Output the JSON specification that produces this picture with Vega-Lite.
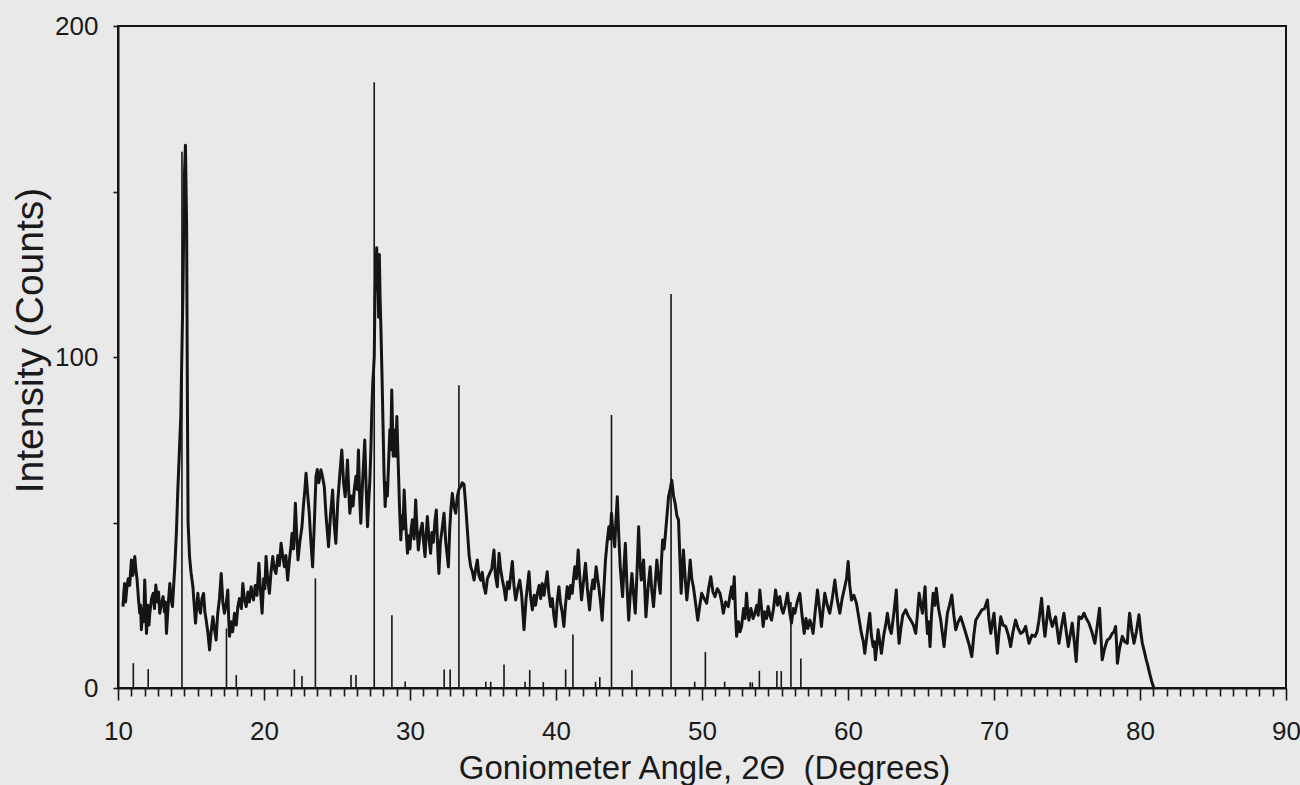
{
  "$schema": "https://vega.github.io/schema/vega-lite/v6.json",
  "width": 1168,
  "height": 662,
  "autosize": {"type": "none"},
  "padding": {"left": 118, "top": 26, "right": 14, "bottom": 97},
  "background": "#e9e9e9",
  "config": {
    "font": "Liberation Sans",
    "view": {"stroke": "#151515", "strokeWidth": 2},
    "axis": {
      "domainColor": "#151515",
      "domainWidth": 2,
      "tickColor": "#151515",
      "tickWidth": 1.6,
      "grid": false,
      "labelColor": "#1a1a1a",
      "titleColor": "#1a1a1a",
      "labelFont": "Liberation Sans",
      "titleFont": "Liberation Sans",
      "titleFontWeight": "normal"
    }
  },
  "datasets": {
    "scan": [
      {"angle": 10.34, "counts": 24.6}, {"angle": 10.4, "counts": 29}, {"angle": 10.45, "counts": 31.6}, {"angle": 10.52, "counts": 26},
      {"angle": 10.6, "counts": 30}, {"angle": 10.7, "counts": 33}, {"angle": 10.8, "counts": 31}, {"angle": 10.92, "counts": 38.7},
      {"angle": 11.02, "counts": 34}, {"angle": 11.15, "counts": 39.7}, {"angle": 11.22, "counts": 36}, {"angle": 11.31, "counts": 32.6},
      {"angle": 11.4, "counts": 27}, {"angle": 11.49, "counts": 22.6}, {"angle": 11.55, "counts": 25}, {"angle": 11.6, "counts": 17.6},
      {"angle": 11.7, "counts": 24}, {"angle": 11.76, "counts": 20}, {"angle": 11.83, "counts": 32.6}, {"angle": 11.9, "counts": 24},
      {"angle": 11.95, "counts": 16.5}, {"angle": 12.05, "counts": 25}, {"angle": 12.12, "counts": 19}, {"angle": 12.18, "counts": 22.6},
      {"angle": 12.3, "counts": 27}, {"angle": 12.41, "counts": 28.6}, {"angle": 12.5, "counts": 24}, {"angle": 12.59, "counts": 31.1},
      {"angle": 12.7, "counts": 26}, {"angle": 12.78, "counts": 29}, {"angle": 12.86, "counts": 22.6}, {"angle": 12.95, "counts": 25},
      {"angle": 13.09, "counts": 27.6}, {"angle": 13.18, "counts": 23}, {"angle": 13.25, "counts": 26}, {"angle": 13.32, "counts": 16.5},
      {"angle": 13.42, "counts": 24}, {"angle": 13.55, "counts": 31.6}, {"angle": 13.63, "counts": 27}, {"angle": 13.73, "counts": 24.6},
      {"angle": 13.8, "counts": 30}, {"angle": 13.89, "counts": 36.6}, {"angle": 14.0, "counts": 47}, {"angle": 14.1, "counts": 60},
      {"angle": 14.3, "counts": 82}, {"angle": 14.45, "counts": 120}, {"angle": 14.55, "counts": 155}, {"angle": 14.62, "counts": 164},
      {"angle": 14.7, "counts": 140}, {"angle": 14.75, "counts": 90}, {"angle": 14.8, "counts": 50}, {"angle": 14.9, "counts": 39.7},
      {"angle": 15.0, "counts": 35}, {"angle": 15.13, "counts": 30.6}, {"angle": 15.22, "counts": 25}, {"angle": 15.31, "counts": 19.6},
      {"angle": 15.4, "counts": 25}, {"angle": 15.47, "counts": 28.6}, {"angle": 15.56, "counts": 24}, {"angle": 15.65, "counts": 22.6},
      {"angle": 15.75, "counts": 27}, {"angle": 15.86, "counts": 28.6}, {"angle": 15.95, "counts": 23}, {"angle": 16.04, "counts": 20.5},
      {"angle": 16.15, "counts": 17}, {"angle": 16.27, "counts": 11.5}, {"angle": 16.38, "counts": 17}, {"angle": 16.5, "counts": 21.5},
      {"angle": 16.6, "counts": 18}, {"angle": 16.72, "counts": 14.5}, {"angle": 16.82, "counts": 22}, {"angle": 16.95, "counts": 27},
      {"angle": 17.07, "counts": 34.6}, {"angle": 17.18, "counts": 26}, {"angle": 17.29, "counts": 22.6}, {"angle": 17.4, "counts": 25},
      {"angle": 17.52, "counts": 29.6}, {"angle": 17.58, "counts": 21}, {"angle": 17.64, "counts": 15.6}, {"angle": 17.75, "counts": 20},
      {"angle": 17.85, "counts": 17}, {"angle": 17.98, "counts": 22.6}, {"angle": 18.1, "counts": 19}, {"angle": 18.21, "counts": 24.6},
      {"angle": 18.32, "counts": 27}, {"angle": 18.45, "counts": 24}, {"angle": 18.55, "counts": 31.6}, {"angle": 18.65, "counts": 27},
      {"angle": 18.78, "counts": 24.6}, {"angle": 18.9, "counts": 29}, {"angle": 19.0, "counts": 26}, {"angle": 19.12, "counts": 30.6},
      {"angle": 19.2, "counts": 28}, {"angle": 19.28, "counts": 26.6}, {"angle": 19.4, "counts": 31}, {"angle": 19.52, "counts": 28},
      {"angle": 19.65, "counts": 37.7}, {"angle": 19.75, "counts": 30}, {"angle": 19.87, "counts": 22.6}, {"angle": 19.98, "counts": 33},
      {"angle": 20.06, "counts": 30}, {"angle": 20.14, "counts": 39.7}, {"angle": 20.25, "counts": 33}, {"angle": 20.37, "counts": 28.6},
      {"angle": 20.48, "counts": 35}, {"angle": 20.6, "counts": 39.7}, {"angle": 20.7, "counts": 36}, {"angle": 20.82, "counts": 34.6},
      {"angle": 20.95, "counts": 40}, {"angle": 21.05, "counts": 37}, {"angle": 21.17, "counts": 43.7}, {"angle": 21.28, "counts": 40},
      {"angle": 21.4, "counts": 36.6}, {"angle": 21.5, "counts": 40}, {"angle": 21.62, "counts": 32.6}, {"angle": 21.75, "counts": 39},
      {"angle": 21.85, "counts": 43}, {"angle": 21.92, "counts": 46.7}, {"angle": 22.02, "counts": 42}, {"angle": 22.15, "counts": 55.8},
      {"angle": 22.25, "counts": 45}, {"angle": 22.33, "counts": 38.7}, {"angle": 22.45, "counts": 44}, {"angle": 22.6, "counts": 48.7},
      {"angle": 22.7, "counts": 55}, {"angle": 22.8, "counts": 60}, {"angle": 22.88, "counts": 64.9}, {"angle": 23.0, "counts": 58},
      {"angle": 23.1, "counts": 52.8}, {"angle": 23.2, "counts": 45}, {"angle": 23.33, "counts": 36.6}, {"angle": 23.45, "counts": 50},
      {"angle": 23.56, "counts": 63.8}, {"angle": 23.65, "counts": 66}, {"angle": 23.75, "counts": 62}, {"angle": 23.9, "counts": 65.9},
      {"angle": 24.0, "counts": 64}, {"angle": 24.13, "counts": 60.8}, {"angle": 24.25, "counts": 52}, {"angle": 24.42, "counts": 42.7},
      {"angle": 24.55, "counts": 52}, {"angle": 24.7, "counts": 59.8}, {"angle": 24.8, "counts": 50}, {"angle": 24.92, "counts": 43.7},
      {"angle": 25.05, "counts": 56}, {"angle": 25.2, "counts": 65}, {"angle": 25.33, "counts": 71.9}, {"angle": 25.45, "counts": 62},
      {"angle": 25.56, "counts": 57.8}, {"angle": 25.65, "counts": 63}, {"angle": 25.72, "counts": 68.9}, {"angle": 25.8, "counts": 60},
      {"angle": 25.88, "counts": 52.8}, {"angle": 26.0, "counts": 58}, {"angle": 26.1, "counts": 55}, {"angle": 26.18, "counts": 59.8},
      {"angle": 26.3, "counts": 64}, {"angle": 26.38, "counts": 60}, {"angle": 26.47, "counts": 71.9}, {"angle": 26.55, "counts": 58},
      {"angle": 26.63, "counts": 49.8}, {"angle": 26.75, "counts": 62}, {"angle": 26.9, "counts": 74.9}, {"angle": 27.0, "counts": 60},
      {"angle": 27.09, "counts": 48.7}, {"angle": 27.18, "counts": 57}, {"angle": 27.25, "counts": 62.8}, {"angle": 27.32, "counts": 72},
      {"angle": 27.38, "counts": 83}, {"angle": 27.45, "counts": 92}, {"angle": 27.55, "counts": 100}, {"angle": 27.6, "counts": 118},
      {"angle": 27.65, "counts": 125}, {"angle": 27.72, "counts": 133}, {"angle": 27.76, "counts": 122}, {"angle": 27.8, "counts": 128},
      {"angle": 27.85, "counts": 112}, {"angle": 27.9, "counts": 131}, {"angle": 27.95, "counts": 118}, {"angle": 28.0, "counts": 110},
      {"angle": 28.08, "counts": 95}, {"angle": 28.15, "counts": 80}, {"angle": 28.22, "counts": 65}, {"angle": 28.3, "counts": 54.8},
      {"angle": 28.38, "counts": 62}, {"angle": 28.45, "counts": 58}, {"angle": 28.55, "counts": 69.9}, {"angle": 28.62, "counts": 78},
      {"angle": 28.68, "counts": 72}, {"angle": 28.75, "counts": 90}, {"angle": 28.8, "counts": 80}, {"angle": 28.85, "counts": 70},
      {"angle": 28.9, "counts": 78}, {"angle": 28.95, "counts": 75}, {"angle": 29.02, "counts": 70}, {"angle": 29.1, "counts": 82},
      {"angle": 29.15, "counts": 74}, {"angle": 29.2, "counts": 66.9}, {"angle": 29.28, "counts": 55}, {"angle": 29.37, "counts": 44.7},
      {"angle": 29.45, "counts": 52}, {"angle": 29.52, "counts": 48}, {"angle": 29.6, "counts": 59.8}, {"angle": 29.7, "counts": 50},
      {"angle": 29.83, "counts": 40.7}, {"angle": 29.92, "counts": 46}, {"angle": 30.0, "counts": 42}, {"angle": 30.08, "counts": 48},
      {"angle": 30.16, "counts": 50.8}, {"angle": 30.28, "counts": 45}, {"angle": 30.39, "counts": 56.8}, {"angle": 30.48, "counts": 48},
      {"angle": 30.57, "counts": 41.7}, {"angle": 30.7, "counts": 47}, {"angle": 30.84, "counts": 49.8}, {"angle": 30.93, "counts": 44},
      {"angle": 31.03, "counts": 39.7}, {"angle": 31.1, "counts": 46}, {"angle": 31.19, "counts": 51.8}, {"angle": 31.3, "counts": 45},
      {"angle": 31.41, "counts": 40.7}, {"angle": 31.5, "counts": 47}, {"angle": 31.6, "counts": 44}, {"angle": 31.7, "counts": 50},
      {"angle": 31.8, "counts": 53.8}, {"angle": 31.9, "counts": 42}, {"angle": 31.98, "counts": 34.6}, {"angle": 32.08, "counts": 44},
      {"angle": 32.2, "counts": 48}, {"angle": 32.33, "counts": 52.8}, {"angle": 32.45, "counts": 44}, {"angle": 32.55, "counts": 40},
      {"angle": 32.63, "counts": 36.6}, {"angle": 32.72, "counts": 48}, {"angle": 32.8, "counts": 54}, {"angle": 32.9, "counts": 58.8},
      {"angle": 33.0, "counts": 55}, {"angle": 33.13, "counts": 52.8}, {"angle": 33.25, "counts": 58}, {"angle": 33.35, "counts": 60},
      {"angle": 33.47, "counts": 60.8}, {"angle": 33.58, "counts": 62}, {"angle": 33.7, "counts": 61.5}, {"angle": 33.8, "counts": 56},
      {"angle": 33.93, "counts": 47.7}, {"angle": 34.05, "counts": 40}, {"angle": 34.16, "counts": 36.6}, {"angle": 34.28, "counts": 35},
      {"angle": 34.39, "counts": 32.6}, {"angle": 34.5, "counts": 36}, {"angle": 34.61, "counts": 38.7}, {"angle": 34.72, "counts": 34},
      {"angle": 34.84, "counts": 32.6}, {"angle": 34.95, "counts": 35}, {"angle": 35.05, "counts": 31}, {"angle": 35.18, "counts": 28.6},
      {"angle": 35.3, "counts": 33}, {"angle": 35.46, "counts": 34.6}, {"angle": 35.6, "counts": 36}, {"angle": 35.75, "counts": 41.7},
      {"angle": 35.85, "counts": 34}, {"angle": 35.98, "counts": 30.6}, {"angle": 36.1, "counts": 40.7}, {"angle": 36.2, "counts": 36},
      {"angle": 36.33, "counts": 32.6}, {"angle": 36.45, "counts": 30}, {"angle": 36.56, "counts": 26.6}, {"angle": 36.68, "counts": 32},
      {"angle": 36.8, "counts": 30}, {"angle": 36.9, "counts": 34}, {"angle": 37.01, "counts": 38.2}, {"angle": 37.12, "counts": 31},
      {"angle": 37.24, "counts": 26.6}, {"angle": 37.38, "counts": 30}, {"angle": 37.52, "counts": 32.6}, {"angle": 37.65, "counts": 28},
      {"angle": 37.81, "counts": 17.6}, {"angle": 37.95, "counts": 27}, {"angle": 38.05, "counts": 31}, {"angle": 38.15, "counts": 35.1},
      {"angle": 38.25, "counts": 28}, {"angle": 38.38, "counts": 23.6}, {"angle": 38.5, "counts": 28}, {"angle": 38.6, "counts": 25},
      {"angle": 38.72, "counts": 28.6}, {"angle": 38.85, "counts": 31}, {"angle": 38.95, "counts": 27}, {"angle": 39.06, "counts": 31.6},
      {"angle": 39.18, "counts": 28}, {"angle": 39.3, "counts": 32}, {"angle": 39.4, "counts": 35.1}, {"angle": 39.5, "counts": 29},
      {"angle": 39.63, "counts": 24.6}, {"angle": 39.75, "counts": 27}, {"angle": 39.85, "counts": 22}, {"angle": 39.97, "counts": 18.6},
      {"angle": 40.08, "counts": 26}, {"angle": 40.2, "counts": 30.6}, {"angle": 40.3, "counts": 26}, {"angle": 40.42, "counts": 23},
      {"angle": 40.54, "counts": 18.6}, {"angle": 40.65, "counts": 25}, {"angle": 40.77, "counts": 30.6}, {"angle": 40.9, "counts": 27},
      {"angle": 41.0, "counts": 31}, {"angle": 41.11, "counts": 28.6}, {"angle": 41.2, "counts": 33}, {"angle": 41.29, "counts": 36.6},
      {"angle": 41.4, "counts": 33}, {"angle": 41.52, "counts": 41.7}, {"angle": 41.62, "counts": 34}, {"angle": 41.75, "counts": 26.6},
      {"angle": 41.88, "counts": 32}, {"angle": 42.02, "counts": 37.7}, {"angle": 42.15, "counts": 30}, {"angle": 42.3, "counts": 23.6},
      {"angle": 42.4, "counts": 29}, {"angle": 42.52, "counts": 32.6}, {"angle": 42.62, "counts": 30}, {"angle": 42.75, "counts": 36.6},
      {"angle": 42.85, "counts": 33}, {"angle": 42.93, "counts": 30.6}, {"angle": 43.05, "counts": 26}, {"angle": 43.16, "counts": 20.5},
      {"angle": 43.28, "counts": 30}, {"angle": 43.39, "counts": 38.7}, {"angle": 43.5, "counts": 44}, {"angle": 43.62, "counts": 48.7},
      {"angle": 43.7, "counts": 45}, {"angle": 43.8, "counts": 52.8}, {"angle": 43.9, "counts": 47}, {"angle": 44.02, "counts": 42.7},
      {"angle": 44.1, "counts": 50}, {"angle": 44.2, "counts": 57.8}, {"angle": 44.3, "counts": 46}, {"angle": 44.4, "counts": 36.6},
      {"angle": 44.48, "counts": 32}, {"angle": 44.56, "counts": 27.6}, {"angle": 44.65, "counts": 36}, {"angle": 44.75, "counts": 43.7},
      {"angle": 44.85, "counts": 32}, {"angle": 44.98, "counts": 20.5}, {"angle": 45.08, "counts": 28}, {"angle": 45.2, "counts": 34.6},
      {"angle": 45.32, "counts": 28}, {"angle": 45.43, "counts": 22.6}, {"angle": 45.55, "counts": 35}, {"angle": 45.66, "counts": 48.7},
      {"angle": 45.75, "counts": 38}, {"angle": 45.84, "counts": 32.6}, {"angle": 45.92, "counts": 36}, {"angle": 46.0, "counts": 38.7},
      {"angle": 46.08, "counts": 30}, {"angle": 46.16, "counts": 21.5}, {"angle": 46.3, "counts": 30}, {"angle": 46.45, "counts": 36.6},
      {"angle": 46.55, "counts": 30}, {"angle": 46.68, "counts": 24.6}, {"angle": 46.8, "counts": 32}, {"angle": 46.91, "counts": 38.7},
      {"angle": 47.02, "counts": 33}, {"angle": 47.14, "counts": 28.6}, {"angle": 47.22, "counts": 38}, {"angle": 47.3, "counts": 44.7},
      {"angle": 47.4, "counts": 42}, {"angle": 47.48, "counts": 45.7}, {"angle": 47.6, "counts": 52}, {"angle": 47.71, "counts": 57.8},
      {"angle": 47.82, "counts": 60}, {"angle": 47.93, "counts": 62.8}, {"angle": 48.05, "counts": 58}, {"angle": 48.16, "counts": 55.8},
      {"angle": 48.28, "counts": 52}, {"angle": 48.39, "counts": 50.8}, {"angle": 48.48, "counts": 40}, {"angle": 48.57, "counts": 28.6},
      {"angle": 48.65, "counts": 35}, {"angle": 48.73, "counts": 41.7}, {"angle": 48.85, "counts": 33}, {"angle": 48.96, "counts": 26.6},
      {"angle": 49.08, "counts": 32}, {"angle": 49.19, "counts": 38.7}, {"angle": 49.3, "counts": 33}, {"angle": 49.41, "counts": 30.6},
      {"angle": 49.55, "counts": 26}, {"angle": 49.71, "counts": 20.5}, {"angle": 49.85, "counts": 25}, {"angle": 49.98, "counts": 28.6},
      {"angle": 50.15, "counts": 27}, {"angle": 50.32, "counts": 25.6}, {"angle": 50.45, "counts": 30}, {"angle": 50.6, "counts": 33.6},
      {"angle": 50.75, "counts": 29}, {"angle": 50.89, "counts": 27.6}, {"angle": 51.05, "counts": 30}, {"angle": 51.23, "counts": 28.6},
      {"angle": 51.35, "counts": 26}, {"angle": 51.46, "counts": 22.6}, {"angle": 51.62, "counts": 26}, {"angle": 51.8, "counts": 24.6},
      {"angle": 51.92, "counts": 28}, {"angle": 52.03, "counts": 30.6}, {"angle": 52.12, "counts": 27}, {"angle": 52.21, "counts": 33.6},
      {"angle": 52.3, "counts": 22}, {"angle": 52.37, "counts": 15.6}, {"angle": 52.5, "counts": 20}, {"angle": 52.6, "counts": 17},
      {"angle": 52.71, "counts": 18.6}, {"angle": 52.85, "counts": 24}, {"angle": 52.95, "counts": 21}, {"angle": 53.05, "counts": 28.6},
      {"angle": 53.12, "counts": 24}, {"angle": 53.21, "counts": 20.5}, {"angle": 53.35, "counts": 24}, {"angle": 53.5, "counts": 21},
      {"angle": 53.62, "counts": 22.6}, {"angle": 53.75, "counts": 25}, {"angle": 53.85, "counts": 22}, {"angle": 53.96, "counts": 29.6},
      {"angle": 54.08, "counts": 24}, {"angle": 54.19, "counts": 18.6}, {"angle": 54.3, "counts": 23}, {"angle": 54.42, "counts": 21},
      {"angle": 54.53, "counts": 24.6}, {"angle": 54.65, "counts": 22}, {"angle": 54.76, "counts": 20.5}, {"angle": 54.9, "counts": 24},
      {"angle": 55.04, "counts": 29.6}, {"angle": 55.18, "counts": 25}, {"angle": 55.33, "counts": 27.6}, {"angle": 55.45, "counts": 24},
      {"angle": 55.56, "counts": 22.6}, {"angle": 55.7, "counts": 25}, {"angle": 55.86, "counts": 28.6}, {"angle": 56.0, "counts": 23},
      {"angle": 56.13, "counts": 19.6}, {"angle": 56.25, "counts": 24}, {"angle": 56.36, "counts": 22.6}, {"angle": 56.52, "counts": 26},
      {"angle": 56.7, "counts": 28.6}, {"angle": 56.85, "counts": 22}, {"angle": 57.0, "counts": 16.5}, {"angle": 57.12, "counts": 21},
      {"angle": 57.25, "counts": 18}, {"angle": 57.39, "counts": 20.5}, {"angle": 57.5, "counts": 19}, {"angle": 57.61, "counts": 16.5},
      {"angle": 57.75, "counts": 23}, {"angle": 57.91, "counts": 29.6}, {"angle": 58.05, "counts": 24}, {"angle": 58.18, "counts": 18.6},
      {"angle": 58.3, "counts": 24}, {"angle": 58.41, "counts": 28.6}, {"angle": 58.58, "counts": 25}, {"angle": 58.75, "counts": 22.6},
      {"angle": 58.92, "counts": 27}, {"angle": 59.1, "counts": 32.6}, {"angle": 59.25, "counts": 27}, {"angle": 59.44, "counts": 22.6},
      {"angle": 59.6, "counts": 27}, {"angle": 59.78, "counts": 30.6}, {"angle": 59.9, "counts": 33}, {"angle": 60.01, "counts": 38.2},
      {"angle": 60.12, "counts": 31}, {"angle": 60.24, "counts": 26.6}, {"angle": 60.4, "counts": 28}, {"angle": 60.58, "counts": 25.6},
      {"angle": 60.75, "counts": 21}, {"angle": 60.92, "counts": 16.5}, {"angle": 61.05, "counts": 14}, {"angle": 61.15, "counts": 10.5},
      {"angle": 61.3, "counts": 16}, {"angle": 61.49, "counts": 22.6}, {"angle": 61.6, "counts": 16}, {"angle": 61.72, "counts": 12.5},
      {"angle": 61.8, "counts": 14}, {"angle": 61.88, "counts": 8.5}, {"angle": 61.98, "counts": 13}, {"angle": 62.06, "counts": 17.6},
      {"angle": 62.18, "counts": 14}, {"angle": 62.29, "counts": 10.5}, {"angle": 62.45, "counts": 16}, {"angle": 62.58, "counts": 19},
      {"angle": 62.7, "counts": 22.6}, {"angle": 62.85, "counts": 18}, {"angle": 62.97, "counts": 16.5}, {"angle": 63.15, "counts": 23},
      {"angle": 63.31, "counts": 29.6}, {"angle": 63.4, "counts": 20}, {"angle": 63.5, "counts": 13.5}, {"angle": 63.62, "counts": 18},
      {"angle": 63.75, "counts": 22}, {"angle": 63.95, "counts": 23.6}, {"angle": 64.1, "counts": 22}, {"angle": 64.3, "counts": 20.5},
      {"angle": 64.48, "counts": 19}, {"angle": 64.64, "counts": 16.5}, {"angle": 64.75, "counts": 22}, {"angle": 64.87, "counts": 28.6},
      {"angle": 65.0, "counts": 25}, {"angle": 65.1, "counts": 22.6}, {"angle": 65.2, "counts": 27}, {"angle": 65.28, "counts": 30.6},
      {"angle": 65.36, "counts": 22}, {"angle": 65.44, "counts": 16.5}, {"angle": 65.52, "counts": 20}, {"angle": 65.62, "counts": 12.5},
      {"angle": 65.72, "counts": 22}, {"angle": 65.83, "counts": 28.6}, {"angle": 65.95, "counts": 25}, {"angle": 66.05, "counts": 30.1},
      {"angle": 66.2, "counts": 24}, {"angle": 66.35, "counts": 20.5}, {"angle": 66.45, "counts": 17}, {"angle": 66.58, "counts": 12.5},
      {"angle": 66.7, "counts": 18}, {"angle": 66.81, "counts": 22.6}, {"angle": 66.95, "counts": 25}, {"angle": 67.11, "counts": 28.1},
      {"angle": 67.25, "counts": 22}, {"angle": 67.38, "counts": 17.6}, {"angle": 67.55, "counts": 20}, {"angle": 67.72, "counts": 21.5},
      {"angle": 67.9, "counts": 19}, {"angle": 68.07, "counts": 16.5}, {"angle": 68.3, "counts": 13}, {"angle": 68.48, "counts": 9.5},
      {"angle": 68.62, "counts": 16}, {"angle": 68.75, "counts": 20.5}, {"angle": 68.95, "counts": 22}, {"angle": 69.16, "counts": 23.6},
      {"angle": 69.35, "counts": 24}, {"angle": 69.55, "counts": 26.6}, {"angle": 69.65, "counts": 21}, {"angle": 69.78, "counts": 16.5},
      {"angle": 69.9, "counts": 20}, {"angle": 70.0, "counts": 22.6}, {"angle": 70.12, "counts": 16}, {"angle": 70.23, "counts": 10.5},
      {"angle": 70.35, "counts": 17}, {"angle": 70.46, "counts": 21.5}, {"angle": 70.62, "counts": 19}, {"angle": 70.8, "counts": 18.6},
      {"angle": 70.98, "counts": 16}, {"angle": 71.14, "counts": 12.5}, {"angle": 71.3, "counts": 17}, {"angle": 71.48, "counts": 20.5},
      {"angle": 71.65, "counts": 18}, {"angle": 71.82, "counts": 16.5}, {"angle": 72.0, "counts": 17}, {"angle": 72.17, "counts": 18.6},
      {"angle": 72.28, "counts": 16}, {"angle": 72.4, "counts": 13.5}, {"angle": 72.6, "counts": 16}, {"angle": 72.81, "counts": 15.6},
      {"angle": 72.95, "counts": 17}, {"angle": 73.08, "counts": 20.5}, {"angle": 73.18, "counts": 24}, {"angle": 73.26, "counts": 27.1},
      {"angle": 73.38, "counts": 20}, {"angle": 73.49, "counts": 15.6}, {"angle": 73.6, "counts": 20}, {"angle": 73.72, "counts": 24.6},
      {"angle": 73.85, "counts": 21}, {"angle": 73.99, "counts": 18.6}, {"angle": 74.1, "counts": 20}, {"angle": 74.22, "counts": 21.5},
      {"angle": 74.35, "counts": 17}, {"angle": 74.45, "counts": 13.5}, {"angle": 74.6, "counts": 18}, {"angle": 74.79, "counts": 22.6},
      {"angle": 74.95, "counts": 17}, {"angle": 75.09, "counts": 12.5}, {"angle": 75.22, "counts": 16}, {"angle": 75.36, "counts": 19.6},
      {"angle": 75.5, "counts": 14}, {"angle": 75.63, "counts": 8.0}, {"angle": 75.72, "counts": 15}, {"angle": 75.82, "counts": 21.5},
      {"angle": 76.0, "counts": 21}, {"angle": 76.16, "counts": 22.6}, {"angle": 76.32, "counts": 21}, {"angle": 76.5, "counts": 19.6},
      {"angle": 76.7, "counts": 17}, {"angle": 76.91, "counts": 13.5}, {"angle": 77.05, "counts": 18}, {"angle": 77.23, "counts": 24.1},
      {"angle": 77.32, "counts": 16}, {"angle": 77.41, "counts": 8.5}, {"angle": 77.58, "counts": 12}, {"angle": 77.76, "counts": 14.5},
      {"angle": 77.92, "counts": 15}, {"angle": 78.1, "counts": 16.5}, {"angle": 78.22, "counts": 17}, {"angle": 78.33, "counts": 18.6},
      {"angle": 78.4, "counts": 13}, {"angle": 78.45, "counts": 7.5}, {"angle": 78.6, "counts": 12}, {"angle": 78.79, "counts": 15.6},
      {"angle": 78.95, "counts": 14}, {"angle": 79.13, "counts": 13.5}, {"angle": 79.2, "counts": 18}, {"angle": 79.29, "counts": 22.6},
      {"angle": 79.45, "counts": 17}, {"angle": 79.59, "counts": 13.5}, {"angle": 79.75, "counts": 17}, {"angle": 79.93, "counts": 22.1},
      {"angle": 80.05, "counts": 17}, {"angle": 80.16, "counts": 13.5}, {"angle": 80.3, "counts": 11}, {"angle": 80.43, "counts": 8.5},
      {"angle": 80.55, "counts": 6.5}, {"angle": 80.66, "counts": 4.4}, {"angle": 80.8, "counts": 2}, {"angle": 80.95, "counts": 0}
    ],
    "sticks": [
      {"angle": 11.05, "intensity": 7.5}, {"angle": 12.07, "intensity": 5.7}, {"angle": 14.38, "intensity": 162},
      {"angle": 17.43, "intensity": 18}, {"angle": 18.1, "intensity": 3.9}, {"angle": 22.08, "intensity": 5.6},
      {"angle": 22.6, "intensity": 3.6}, {"angle": 23.52, "intensity": 33.1}, {"angle": 25.96, "intensity": 3.9},
      {"angle": 26.3, "intensity": 3.9}, {"angle": 27.55, "intensity": 183}, {"angle": 28.76, "intensity": 22},
      {"angle": 29.67, "intensity": 2}, {"angle": 32.34, "intensity": 5.6}, {"angle": 32.75, "intensity": 5.6},
      {"angle": 33.35, "intensity": 91.5}, {"angle": 35.19, "intensity": 1.9}, {"angle": 35.53, "intensity": 1.9},
      {"angle": 36.44, "intensity": 7.1}, {"angle": 37.88, "intensity": 1.9}, {"angle": 38.2, "intensity": 5.4},
      {"angle": 39.13, "intensity": 1.8}, {"angle": 40.66, "intensity": 5.6}, {"angle": 41.16, "intensity": 16.2},
      {"angle": 42.71, "intensity": 1.9}, {"angle": 43.0, "intensity": 3.3}, {"angle": 43.8, "intensity": 82.5},
      {"angle": 45.2, "intensity": 5.4}, {"angle": 47.88, "intensity": 119}, {"angle": 49.5, "intensity": 1.9},
      {"angle": 50.23, "intensity": 10.9}, {"angle": 51.55, "intensity": 1.9}, {"angle": 53.3, "intensity": 1.7},
      {"angle": 53.45, "intensity": 1.7}, {"angle": 53.93, "intensity": 5.2}, {"angle": 55.13, "intensity": 5.1},
      {"angle": 55.43, "intensity": 5.1}, {"angle": 56.09, "intensity": 26}, {"angle": 56.77, "intensity": 8.9}
    ]
  },
  "layer": [
    {
      "data": {"name": "sticks"},
      "mark": {"type": "rule", "color": "#151515", "strokeWidth": 1.6},
      "encoding": {
        "x": {
          "field": "angle",
          "type": "quantitative",
          "scale": {"domain": [10, 90], "nice": false, "zero": false},
          "axis": {
            "values": [10, 10.9091, 11.8182, 12.7273, 13.6364, 14.5455, 15.4545, 16.3636, 17.2727, 18.1818, 19.0909,
                       20, 20.9091, 21.8182, 22.7273, 23.6364, 24.5455, 25.4545, 26.3636, 27.2727, 28.1818, 29.0909,
                       30, 30.9091, 31.8182, 32.7273, 33.6364, 34.5455, 35.4545, 36.3636, 37.2727, 38.1818, 39.0909,
                       40, 40.9091, 41.8182, 42.7273, 43.6364, 44.5455, 45.4545, 46.3636, 47.2727, 48.1818, 49.0909,
                       50, 50.9091, 51.8182, 52.7273, 53.6364, 54.5455, 55.4545, 56.3636, 57.2727, 58.1818, 59.0909,
                       60, 60.9091, 61.8182, 62.7273, 63.6364, 64.5455, 65.4545, 66.3636, 67.2727, 68.1818, 69.0909,
                       70, 70.9091, 71.8182, 72.7273, 73.6364, 74.5455, 75.4545, 76.3636, 77.2727, 78.1818, 79.0909,
                       80, 80.9091, 81.8182, 82.7273, 83.6364, 84.5455, 85.4545, 86.3636, 87.2727, 88.1818, 89.0909, 90],
            "tickCount": 200,
            "tickMinStep": 0,
            "labelExpr": "datum.value % 10 === 0 ? format(datum.value, 'd') : ''",
            "tickSize": {"condition": {"test": "datum.value % 10 === 0", "value": 12}, "value": 8},
            "labelFlush": false,
            "labelOverlap": false,
            "labelFontSize": 26,
            "labelPadding": 18,
            "title": "Goniometer Angle, 2Θ\u00a0 (Degrees)",
            "titleFontSize": 33,
            "titleX": 586,
            "titleY": 80,
            "titleBaseline": "middle",
            "titleAlign": "center"
          }
        },
        "y": {
          "field": "intensity",
          "type": "quantitative",
          "scale": {"domain": [0, 200], "nice": false},
          "axis": {
            "values": [0, 50, 100, 150, 200],
            "labelExpr": "datum.value % 100 === 0 ? datum.label : ''",
            "tickSize": 5,
            "labelFontSize": 26,
            "labelPadding": 15,
            "title": "Intensity (Counts)",
            "titleFontSize": 39,
            "titleAngle": 270,
            "titleX": -88,
            "titleY": 314,
            "titleBaseline": "middle",
            "titleAlign": "center"
          }
        },
        "y2": {"datum": 0}
      }
    },
    {
      "data": {"name": "scan"},
      "mark": {"type": "line", "color": "#151515", "strokeWidth": 3, "strokeJoin": "round"},
      "encoding": {
        "x": {"field": "angle", "type": "quantitative"},
        "y": {"field": "counts", "type": "quantitative"}
      }
    }
  ]
}
